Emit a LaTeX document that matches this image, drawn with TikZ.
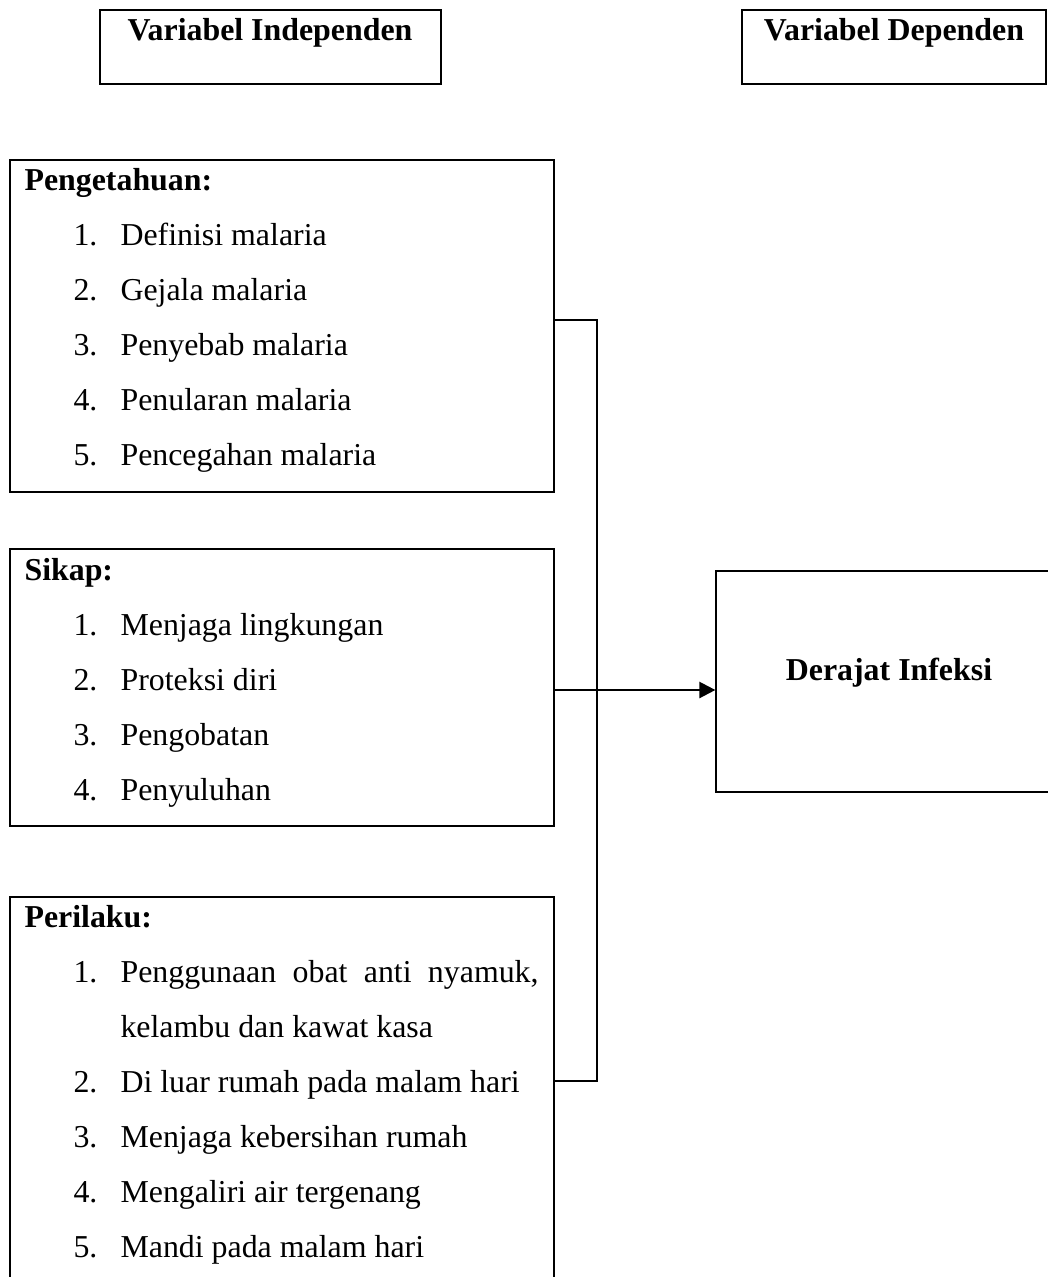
\documentclass[tikz,border=0pt]{standalone}
\usepackage{fontspec}
\setmainfont{Liberation Serif}
\usetikzlibrary{fit,arrows.meta}

\tikzset{
  kotak/.style={draw, line width=0.8pt, inner sep=0pt},
  kotaktipis/.style={draw, line width=0.45pt, inner sep=0pt},
  judul/.style={font=\fontsize{12}{14}\selectfont\bfseries, anchor=base west, inner sep=0pt},
  butir/.style={font=\fontsize{12}{14}\selectfont, anchor=base west, inner sep=0pt},
  garis/.style={line width=0.55pt},
  panah/.style={line width=0.9pt, -{Triangle[length=6pt,width=6pt]}}
}

\begin{document}
\begin{tikzpicture}[x=0.3765pt,y=-0.3765pt]
    \useasboundingbox (0,0) rectangle (1048,1277);
    \clip (0,0) rectangle (1048,1277);

    % -----------------------------------------------------
    % 1) Kotak judul di atas
    % -----------------------------------------------------
    \node[kotak, fit={(100,10) (441,84)}] (indep) {};
    \node[judul, anchor=base] (tindep) at (270,40) {Variabel Independen};
    \node[kotak, fit={(742,10) (1046,84)}] (dep) {};
    \node[judul, anchor=base] (tdep) at (894,40) {Variabel Dependen};

    % -----------------------------------------------------
    % 2) Pengetahuan
    % -----------------------------------------------------
    \node[kotak, fit={(10,160) (554,492)}] (pengetahuan) {};
    \node[judul] (jpeng) at (24,190) {Pengetahuan:};
    \foreach \no/\isi in {1/Definisi malaria, 2/Gejala malaria,
        3/Penyebab malaria, 4/Penularan malaria, 5/Pencegahan malaria}{
        \node[butir] (npeng\no) at (73,{190+55*\no}) {\no.};
        \node[butir] (ipeng\no) at (120,{190+55*\no}) {\isi};
    }

    % -----------------------------------------------------
    % 3) Sikap
    % -----------------------------------------------------
    \node[kotak, fit={(10,549) (554,826)}] (sikap) {};
    \node[judul] (jsikap) at (24,580) {Sikap:};
    \foreach \no/\isi in {1/Menjaga lingkungan, 2/Proteksi diri,
        3/Pengobatan, 4/Penyuluhan}{
        \node[butir] (nsikap\no) at (73,{580+55*\no}) {\no.};
        \node[butir] (isikap\no) at (120,{580+55*\no}) {\isi};
    }

    % -----------------------------------------------------
    % 4) Perilaku (sisi bawah terpotong)
    % -----------------------------------------------------
    \node[kotak, fit={(10,897) (554,1284)}] (perilaku) {};
    \node[judul] (jperi) at (24,927) {Perilaku:};
    \node[butir] (nperi1) at (73,982) {1.};
    \node[butir] (iperi1) at (120,982) {\makebox[157.4pt][s]{Penggunaan obat anti nyamuk,}};
    \node[butir] (iperi1b) at (120,1037) {kelambu dan kawat kasa};
    \foreach \no/\isi in {2/Di luar rumah pada malam hari,
        3/Menjaga kebersihan rumah, 4/Mengaliri air tergenang,
        5/Mandi pada malam hari}{
        \node[butir] (nperi\no) at (73,{927+55*(\no+1)}) {\no.};
        \node[butir] (iperi\no) at (120,{927+55*(\no+1)}) {\isi};
    }

    % -----------------------------------------------------
    % 5) Derajat Infeksi
    % -----------------------------------------------------
    \node[kotaktipis, fit={(716,571) (1062,792)}] (derajat) {};
    \node[judul, anchor=base] (tderajat) at (889,680) {Derajat Infeksi};

    % -----------------------------------------------------
    % 6) Penghubung
    % -----------------------------------------------------
    \coordinate (sambung1) at (597,320);
    \coordinate (sambung2) at (597,1081);
    \coordinate (panahy) at (0,690);
    \draw[garis] (pengetahuan.east |- sambung1) -- (sambung1)
        -- (sambung2) -- (perilaku.east |- sambung2);
    \draw[panah] (sikap.east |- panahy) -- (derajat.west |- panahy);

\end{tikzpicture}
\end{document}
